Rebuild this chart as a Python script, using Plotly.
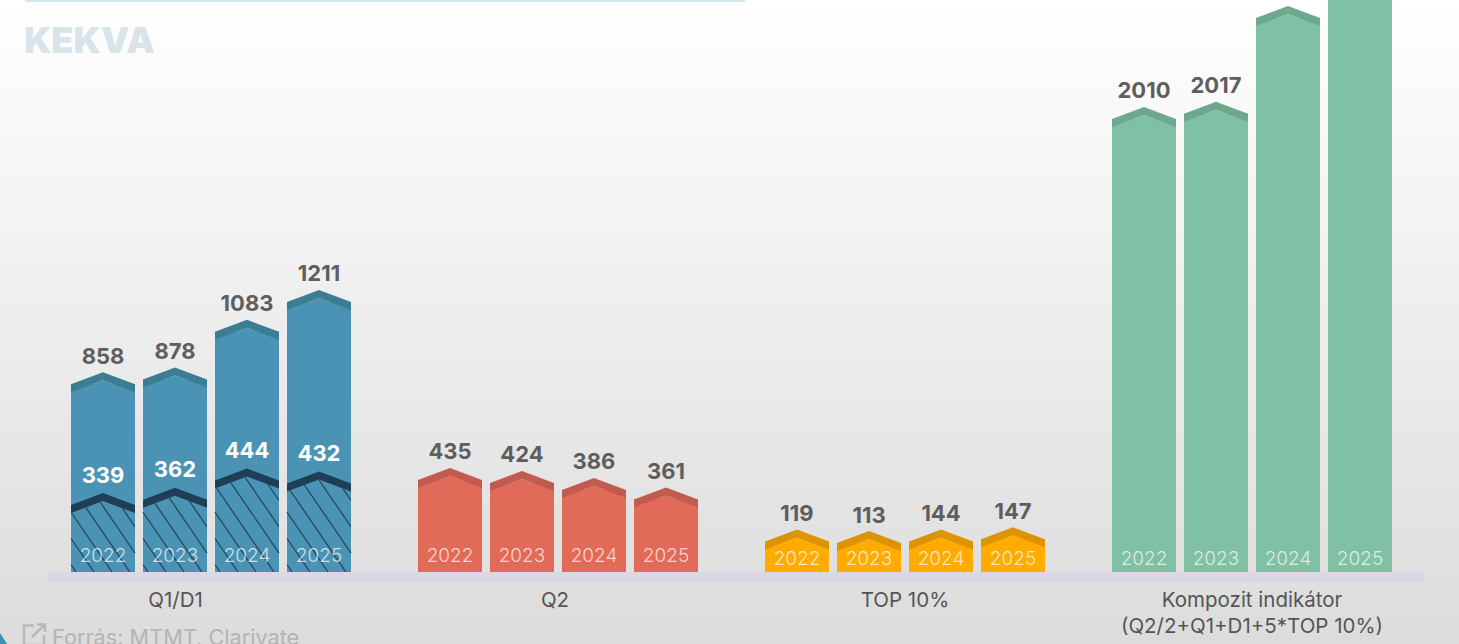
import plotly.graph_objects as go

# ---- data ----
years = ["2022", "2023", "2024", "2025"]
groups = ["Q1/D1", "Q2", "TOP 10%", "Kompozit indikátor<br>(Q2/2+Q1+D1+5*TOP 10%)"]
q1d1_total = [858, 878, 1083, 1211]
q1d1_inner = [339, 362, 444, 432]
q2_values = [435, 424, 386, 361]
top10_values = [119, 113, 144, 147]
composite_values = [2010, 2017, None, None]  # the last two labels lie beyond the picture's top edge
# heights as the picture draws them, where they depart from the printed value
top10_drawn = [183, 176, 183, 192]
q2_drawn = [447, 434, 404, 363]
composite_drawn = [1997, 2019, 2430, 2560]

W, H = 1459, 644
BASE_PX = 572
LEFT_PX, RIGHT_PX = 48, 1424
PX_PER_UNIT = 0.2329
SLOT_PX = 72.0
FIRST_CENTER_PX = 103
GROUP_STEP = 347.0 / SLOT_PX
BAR_W = 64 / SLOT_PX
HALF = BAR_W / 2
TIP = 12 / PX_PER_UNIT
BAND = 8 / PX_PER_UNIT
TEXT_FONT = "Inter"
HATCH_SLOPE = 1.46     # rise per run, in pixels
HATCH_STEP_PX = 18
HATCH_PHASE_PX = 5


def u(px):
    return px / PX_PER_UNIT


def slot(g, i):
    return g * GROUP_STEP + i


def pentagons(g, heights, drop=0.0):
    xs, ys = [], []
    for i, h in enumerate(heights):
        c = slot(g, i)
        xs += [c - HALF, c - HALF, c, c + HALF, c + HALF, c - HALF, None]
        ys += [0, h - TIP - drop, h - drop, h - TIP - drop, 0, 0, None]
    return xs, ys


def bands(g, heights, thick):
    xs, ys = [], []
    for i, h in enumerate(heights):
        c = slot(g, i)
        xs += [c - HALF, c, c + HALF, c + HALF, c, c - HALF, c - HALF, None]
        ys += [h - TIP, h, h - TIP, h - TIP - thick, h - thick, h - TIP - thick, h - TIP, None]
    return xs, ys


def hatch_lines(g, heights):
    """Diagonal hatch clipped to the pentagon under the dark band."""
    xs, ys = [], []
    half_px = HALF * SLOT_PX
    for i, h in enumerate(heights):
        c = slot(g, i)
        peak = (h - BAND) * PX_PER_UNIT
        shoulder = (h - BAND - TIP) * PX_PER_UNIT
        k = -2
        while True:
            xb = -half_px + HATCH_PHASE_PX + k * HATCH_STEP_PX
            if xb - peak / HATCH_SLOPE > half_px:
                break
            kept = []
            for n in range(int(peak * 4) + 1):
                yy = n / 4
                xx = xb - yy / HATCH_SLOPE
                if abs(xx) > half_px:
                    continue
                top = shoulder + (peak - shoulder) * (1 - abs(xx) / half_px)
                if yy <= top:
                    kept.append((xx, yy))
            if len(kept) > 1:
                for xx, yy in (kept[0], kept[-1]):
                    xs.append(c + xx / SLOT_PX)
                    ys.append(u(yy))
                xs.append(None)
                ys.append(None)
            k += 1
    return xs, ys


fig = go.Figure()

series = [
    (0, q1d1_total, q1d1_total, "#4b93b4", "#3b7d92", 15),
    (1, q2_drawn, q2_values, "#e26a59", "#c25b4f", 15),
    (2, top10_drawn, top10_values, "#ffab00", "#dc9304", 12),
    (3, composite_drawn, composite_values, "#80c0a5", "#6da88f", 12),
]

for g, heights, labels, col, dark, year_px in series:
    fig.add_trace(go.Bar(
        x=[slot(g, i) for i in range(4)],
        y=[h - TIP for h in heights],
        width=BAR_W, marker=dict(color=col, line=dict(width=0)),
        showlegend=False, hoverinfo="skip"))
    xs, ys = pentagons(g, heights, BAND)
    fig.add_trace(go.Scatter(x=xs, y=ys, mode="none", fill="toself", fillcolor=col,
                             showlegend=False, hoverinfo="skip"))
    xs, ys = bands(g, heights, BAND)
    fig.add_trace(go.Scatter(x=xs, y=ys, mode="none", fill="toself", fillcolor=dark,
                             showlegend=False, hoverinfo="skip"))

# hatched inner part of Q1/D1
xs, ys = hatch_lines(0, q1d1_inner)
fig.add_trace(go.Scatter(x=xs, y=ys, mode="lines", line=dict(color="#24404f", width=1.2),
                         showlegend=False, hoverinfo="skip"))
xs, ys = bands(0, q1d1_inner, BAND)
fig.add_trace(go.Scatter(x=xs, y=ys, mode="none", fill="toself", fillcolor="#1f3f58",
                         showlegend=False, hoverinfo="skip"))

# value labels
for g, heights, labels, col, dark, year_px in series:
    fig.add_trace(go.Scatter(
        x=[slot(g, i) for i in range(4) if labels[i] is not None],
        y=[heights[i] + u(14) for i in range(4) if labels[i] is not None],
        mode="text", text=[str(v) for v in labels if v is not None], textposition="middle center",
        textfont=dict(family=TEXT_FONT, size=22, color="#5e5e5e", weight=700),
        showlegend=False, hoverinfo="skip"))
    fig.add_trace(go.Scatter(
        x=[slot(g, i) for i in range(4)],
        y=[u(year_px)] * 4,
        mode="text", text=years, textposition="middle center",
        textfont=dict(family=TEXT_FONT, size=19, color="rgba(255,255,255,0.72)", weight=300),
        showlegend=False, hoverinfo="skip"))

fig.add_trace(go.Scatter(
    x=[slot(0, i) for i in range(4)],
    y=[h + u(16) for h in q1d1_inner],
    mode="text", text=[str(v) for v in q1d1_inner], textposition="middle center",
    textfont=dict(family=TEXT_FONT, size=22, color="#ffffff", weight=700),
    showlegend=False, hoverinfo="skip"))

# background gradient
shapes = []
STEPS = 70
plot_h = BASE_PX


def py(px):
    return (BASE_PX - px) / plot_h


def pxx(px):
    return (px - LEFT_PX) / (RIGHT_PX - LEFT_PX)


for k in range(STEPS):
    y0 = k * H / STEPS
    y1 = (k + 1) * H / STEPS + 1
    v = round(255 - 35 * (k / (STEPS - 1)))
    shapes.append(dict(type="rect", xref="paper", yref="paper", layer="below",
                       x0=pxx(0), x1=pxx(W), y0=py(y0), y1=py(y1),
                       fillcolor=f"rgb({v},{v},{v})", line=dict(width=0)))
# thin light-blue rule at the very top
shapes.append(dict(type="rect", xref="paper", yref="paper", layer="below",
                   x0=pxx(25), x1=pxx(745), y0=py(0), y1=py(2),
                   fillcolor="#d3e6f0", line=dict(width=0)))
# corner of a neighbouring element at the bottom left
shapes.append(dict(type="path", xref="paper", yref="paper", layer="above",
                   path=f"M {pxx(0)} {py(633)} L {pxx(7)} {py(644)} L {pxx(0)} {py(644)} Z",
                   fillcolor="#3f8fb0", line=dict(width=0)))
# external-link icon beside the source note
shapes.append(dict(type="path", xref="paper", yref="paper", layer="above",
                   path=f"M {pxx(34)} {py(625.5)} L {pxx(24)} {py(625.5)} L {pxx(24)} {py(645)}"
                        f" L {pxx(44)} {py(645)} L {pxx(44)} {py(635)}"
                        f" M {pxx(32)} {py(637)} L {pxx(45)} {py(624.5)}"
                        f" M {pxx(37)} {py(624.5)} L {pxx(45)} {py(624.5)} L {pxx(45)} {py(632)}",
                   line=dict(color="#b8b8b8", width=2.5)))

centers_px = [175.5, 555, 905, 1252]
tick_x = [(c - FIRST_CENTER_PX) / SLOT_PX for c in centers_px]

fig.update_layout(
    width=W, height=H,
    margin=dict(l=LEFT_PX, r=W - RIGHT_PX, t=0, b=H - BASE_PX, pad=0),
    paper_bgcolor="#eeeeee", plot_bgcolor="rgba(0,0,0,0)",
    showlegend=False, shapes=shapes, barmode="overlay",
    font=dict(family=TEXT_FONT),
    xaxis=dict(range=[(LEFT_PX - FIRST_CENTER_PX) / SLOT_PX, (RIGHT_PX - FIRST_CENTER_PX) / SLOT_PX],
               tickmode="array", tickvals=tick_x, ticktext=groups,
               ticks="", showgrid=False, zeroline=False, showline=True,
               linecolor="#dcd7e2", linewidth=10,
               tickfont=dict(family=TEXT_FONT, size=20.5, color="#555555")),
    yaxis=dict(range=[0, u(BASE_PX)], visible=False, showgrid=False, zeroline=False),
    annotations=[
        dict(text="KEKVA", xref="paper", yref="paper", x=pxx(22), y=py(40), xanchor="left",
             yanchor="middle", showarrow=False,
             font=dict(family="Inter", size=36, color="#d8e4ea", weight=900)),
        dict(text="Forrás: MTMT, Clarivate", xref="paper", yref="paper", x=pxx(50), y=py(637),
             xanchor="left", yanchor="middle", showarrow=False,
             font=dict(family=TEXT_FONT, size=21.7, color="#b4b4b4")),
    ],
)

fig.write_html("out.html", config=dict(displayModeBar=False),
               post_script="document.body.style.margin='0';document.body.style.overflow='hidden';")
